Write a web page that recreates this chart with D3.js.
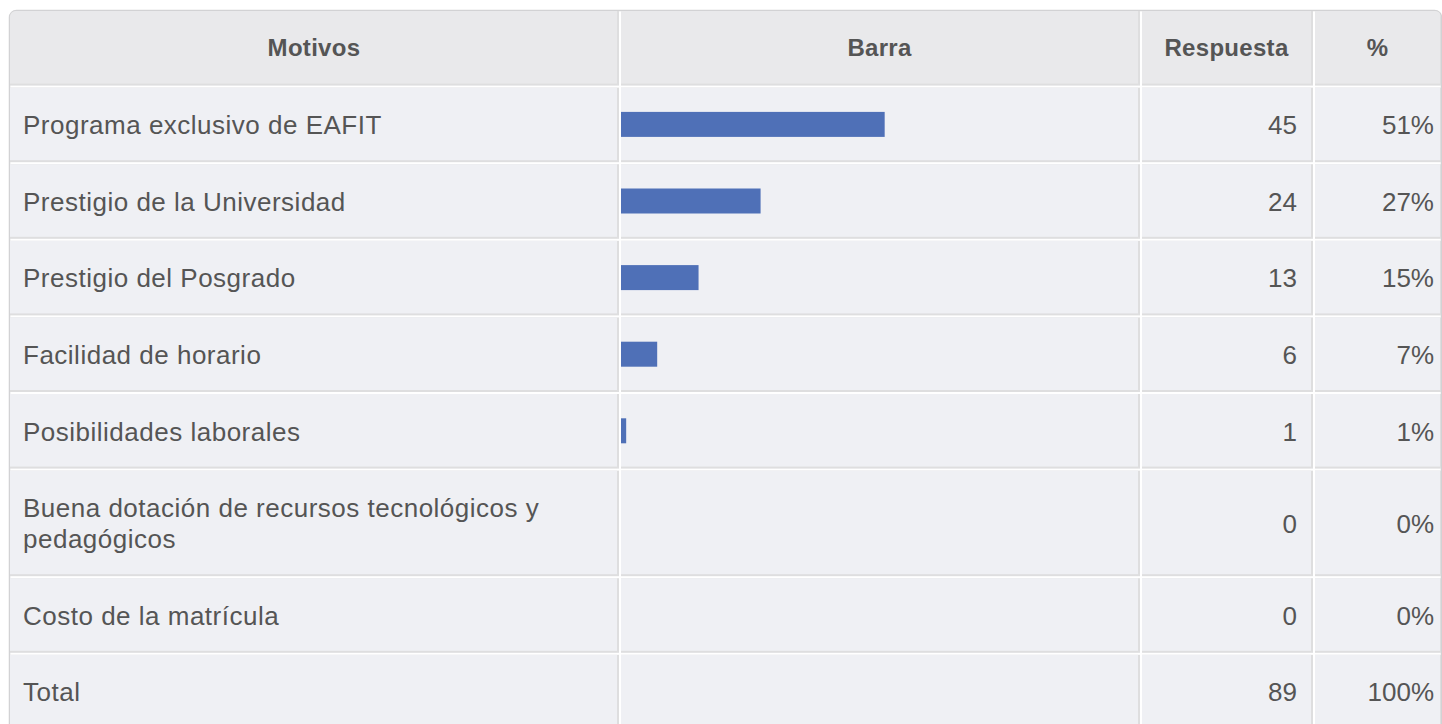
<!DOCTYPE html>
<html>
<head>
<meta charset="utf-8">
<script src="https://cdn.jsdelivr.net/npm/d3@7"></script>
<style>
  body { margin: 0; background: #fff; }
  svg { display: block; font-family: Helvetica, Arial, "Liberation Sans", sans-serif; }
</style>
</head>
<body>
<svg id="chart"></svg>
<script>
var columnas = ["Motivos", "Barra", "Respuesta", "%"];
var motivos = [
  "Programa exclusivo de EAFIT",
  "Prestigio de la Universidad",
  "Prestigio del Posgrado",
  "Facilidad de horario",
  "Posibilidades laborales",
  "Buena dotación de recursos tecnológicos y pedagógicos",
  "Costo de la matrícula"
];
var respuestas = [45, 24, 13, 6, 1, 0, 0];
var porcentajes = [51, 27, 15, 7, 1, 0, 0];
var totalEtiqueta = "Total";
var totalRespuestas = 89;
var totalPorcentaje = 100;

var width = 1442, height = 724;
var fs = 26, hfs = 24, lineH = 31;
var headH = 74.6, rowH = 74.6, gap = 2, bw = 2;
var tableTop = 11;

// column edges (cell left, cell right incl. border)
var cols = [
  {x0: 11, x1: 619},
  {x0: 621, x1: 1140},
  {x0: 1142, x1: 1313, pad: 14},
  {x0: 1315, x1: 1442, pad: 8}
];

var svg = d3.select("#chart").attr("width", width).attr("height", height);

svg.append("defs").append("clipPath").attr("id", "tbl")
  .append("rect").attr("x", 10).attr("y", 11).attr("width", 1431).attr("height", 900).attr("rx", 6);

// outer border
svg.append("rect")
  .attr("x", 9.5).attr("y", 10.5).attr("width", 1432).attr("height", 900).attr("rx", 7)
  .attr("fill", "#fff").attr("stroke", "#d2d2d4").attr("stroke-width", 1.5);

var g = svg.append("g").attr("clip-path", "url(#tbl)");

// wrap long labels
var meas = svg.append("text").style("font-size", fs + "px").style("letter-spacing", "0.5px");
var maxW = cols[0].x1 - cols[0].x0 - bw - 24;
function wrap(str) {
  var words = str.split(" "), lines = [], cur = "";
  words.forEach(function(w) {
    var t = cur ? cur + " " + w : w;
    meas.text(t);
    if (meas.node().getComputedTextLength() > maxW && cur) {
      lines.push(cur); cur = w;
    } else cur = t;
  });
  lines.push(cur);
  return lines;
}

var filas = motivos.map(function(m, i) {
  return {label: wrap(m), resp: respuestas[i], pct: porcentajes[i], bar: true};
});
filas.push({label: [totalEtiqueta], resp: totalRespuestas, pct: totalPorcentaje, bar: false});
meas.remove();

var yPos = tableTop + headH + gap;
filas.forEach(function(f) {
  f.y = yPos;
  f.h = rowH + (f.label.length - 1) * lineH;
  yPos += f.h + gap;
});

var x = d3.scaleLinear().domain([0, 100]).range([0, 517]);

function cell(x0, x1, y0, h, fill) {
  g.append("rect").attr("x", x0).attr("y", y0).attr("width", x1 - x0).attr("height", h)
    .attr("fill", "#dededf");
  g.append("rect").attr("x", x0).attr("y", y0).attr("width", x1 - x0 - bw).attr("height", h - bw)
    .attr("fill", fill);
}

// header
cols.forEach(function(c, j) {
  cell(c.x0 - (j === 0 ? 1 : 0), c.x1, tableTop, headH, "#e9e9eb");
  g.append("text")
    .attr("x", (c.x0 + c.x1 - bw) / 2)
    .attr("y", tableTop + (headH - bw) / 2 + 0.5)
    .attr("dy", "0.36em")
    .attr("text-anchor", "middle")
    .style("font-size", hfs + "px")
    .style("font-weight", "bold")
    .style("letter-spacing", "0.3px")
    .attr("fill", "#555")
    .text(columnas[j]);
});

// body
filas.forEach(function(f) {
  var cy = f.y + (f.h - bw) / 2 + 1;
  cols.forEach(function(c, j) {
    cell(c.x0 - (j === 0 ? 1 : 0), c.x1, f.y, f.h, "#eff0f4");
  });

  var t = g.append("text")
    .attr("y", cy - (f.label.length - 1) * lineH / 2)
    .style("font-size", fs + "px")
    .style("letter-spacing", "0.5px")
    .attr("fill", "#555");
  f.label.forEach(function(l, k) {
    t.append("tspan").attr("x", cols[0].x0 + 12).attr("dy", k === 0 ? "0.36em" : lineH).text(l);
  });

  if (f.bar && f.pct > 0) {
    g.append("rect")
      .attr("x", cols[1].x0)
      .attr("y", cy - 13)
      .attr("width", x(f.pct))
      .attr("height", 25)
      .attr("fill", "#4f70b7");
  }

  g.append("text")
    .attr("x", cols[2].x1 - bw - cols[2].pad)
    .attr("y", cy).attr("dy", "0.36em")
    .attr("text-anchor", "end")
    .style("font-size", fs + "px").attr("fill", "#555")
    .text(f.resp);

  g.append("text")
    .attr("x", cols[3].x1 - cols[3].pad)
    .attr("y", cy).attr("dy", "0.36em")
    .attr("text-anchor", "end")
    .style("font-size", fs + "px").attr("fill", "#555")
    .text(f.pct + "%");
});
</script>
</body>
</html>
